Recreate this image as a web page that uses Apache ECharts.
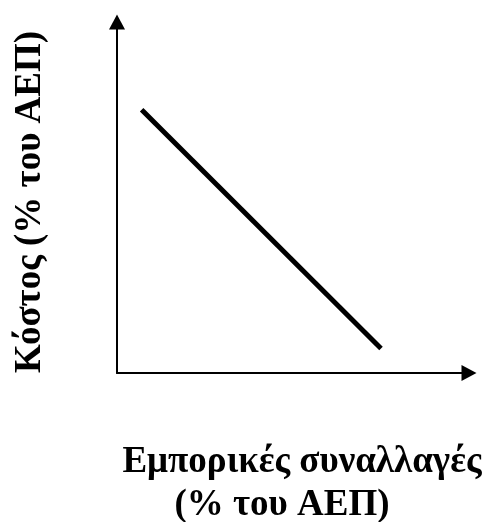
<!DOCTYPE html>
<html>
<head>
<meta charset="utf-8">
<script src="https://cdn.jsdelivr.net/npm/echarts@6/dist/echarts.min.js"></script>
<style>
html,body{margin:0;padding:0;background:#fff;}
#c{width:485px;height:522px;}
</style>
</head>
<body>
<div id="c"></div>
<script>
// Conceptual chart: trade (% of GDP) vs cost (% of GDP)
const lineX = [7, 75];
const lineY = [75, 7];
const xTitle1 = 'Εμπορικές συναλλαγές';
const xTitle2 = '(% του ΑΕΠ)';
const yTitle = 'Κόστος (% του ΑΕΠ)';

const font = 'bold 37px "Liberation Serif", "Times New Roman", serif';
const chart = echarts.init(document.getElementById('c'), null, {renderer: 'canvas'});
const axisCommon = {
  type: 'value', min: 0, max: 100,
  axisLine: {show: true, lineStyle: {color: '#000', width: 2}, symbol: ['none', 'triangle'], symbolSize: [16, 15]},
  axisTick: {show: false}, axisLabel: {show: false}, splitLine: {show: false}
};
chart.setOption({
  animation: false,
  backgroundColor: '#fff',
  grid: {left: 117, right: 16, top: 22, bottom: 149, containLabel: false},
  xAxis: Object.assign({}, axisCommon),
  yAxis: Object.assign({}, axisCommon),
  series: [{
    type: 'line',
    data: lineX.map((x, i) => [x, lineY[i]]),
    symbol: 'none',
    lineStyle: {color: '#000', width: 5, cap: 'butt'}
  }],
  graphic: [
    {type: 'text', x: 30, y: 202, rotation: Math.PI / 2,
     style: {text: yTitle, font: font, fill: '#000', align: 'center', verticalAlign: 'middle'}},
    {type: 'text', x: 302, y: 462,
     style: {text: xTitle1, font: font, fill: '#000', align: 'center', verticalAlign: 'middle'}},
    {type: 'text', x: 282, y: 505,
     style: {text: xTitle2, font: font, fill: '#000', align: 'center', verticalAlign: 'middle'}}
  ]
});
</script>
</body>
</html>
